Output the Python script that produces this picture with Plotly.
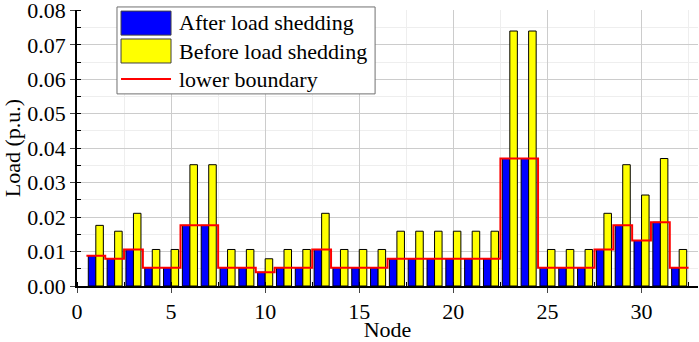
import plotly.graph_objects as go

nodes = list(range(1, 33))
before = [0.0176, 0.0159, 0.0211, 0.0106, 0.0106, 0.0352, 0.0352, 0.0106,
          0.0106, 0.0079, 0.0106, 0.0106, 0.0211, 0.0106, 0.0106, 0.0106,
          0.0159, 0.0159, 0.0159, 0.0159, 0.0159, 0.0159, 0.0740, 0.0740,
          0.0106, 0.0106, 0.0106, 0.0211, 0.0352, 0.0264, 0.0370, 0.0106]
after = [0.0088, 0.0079, 0.0106, 0.0053, 0.0053, 0.0176, 0.0176, 0.0053,
         0.0053, 0.0040, 0.0053, 0.0053, 0.0106, 0.0053, 0.0053, 0.0053,
         0.0079, 0.0079, 0.0079, 0.0079, 0.0079, 0.0079, 0.0370, 0.0370,
         0.0053, 0.0053, 0.0053, 0.0106, 0.0176, 0.0132, 0.0185, 0.0053]
lower = after[:]

x_ticks = [0, 5, 10, 15, 20, 25, 30]
y_ticks = [0.00, 0.01, 0.02, 0.03, 0.04, 0.05, 0.06, 0.07, 0.08]

FONT = "Liberation Serif, Times New Roman, serif"
FS = 22

# step line edges: node +/- 0.5
step_x = [n - 0.5 for n in nodes] + [nodes[-1] + 0.5]
step_y = lower + [lower[-1]]

fig = go.Figure()
fig.add_trace(go.Bar(x=nodes, y=after, name="After load shedding",
                     marker=dict(color="#0000FF", line=dict(color="#000000", width=1)),
                     showlegend=False))
fig.add_trace(go.Bar(x=nodes, y=before, name="Before load shedding",
                     marker=dict(color="#FFFF00", line=dict(color="#000000", width=1)),
                     showlegend=False))
fig.add_trace(go.Scatter(x=step_x, y=step_y, mode="lines", name="lower boundary",
                         line=dict(color="#FF0000", width=2, shape="hv"),
                         showlegend=False))

# custom legend
shapes = [
    dict(type="rect", xref="paper", yref="paper", x0=0.0644, x1=0.48, y0=0.696, y1=1.011,
         line=dict(color="#707070", width=1), fillcolor="white", layer="above"),
    dict(type="rect", xref="paper", yref="paper", x0=0.0709, x1=0.1514, y0=0.909, y1=0.996,
         line=dict(color="#404040", width=1), fillcolor="#0000FF", layer="above"),
    dict(type="rect", xref="paper", yref="paper", x0=0.0709, x1=0.1514, y0=0.808, y1=0.895,
         line=dict(color="#404040", width=1), fillcolor="#FFFF00", layer="above"),
    dict(type="line", xref="paper", yref="paper", x0=0.0709, x1=0.1514, y0=0.75, y1=0.75,
         line=dict(color="#FF0000", width=2), layer="above"),
]
labels = ["After load shedding", "Before load shedding", "lower boundary"]
ys = [0.953, 0.851, 0.75]
annotations = [dict(text=t, xref="paper", yref="paper", x=0.161, y=yy, xanchor="left",
                    yanchor="middle", showarrow=False,
                    font=dict(family=FONT, size=FS, color="black"))
               for t, yy in zip(labels, ys)]

fig.update_layout(
    width=699, height=342,
    margin=dict(l=77, r=1, t=10, b=56, autoexpand=False),
    plot_bgcolor="white", paper_bgcolor="white",
    barmode="group", bargap=0.2, bargroupgap=0,
    font=dict(family=FONT, size=FS, color="black"),
    shapes=shapes, annotations=annotations,
    xaxis=dict(range=[0, 33], tickvals=x_ticks, ticks="outside", ticklen=5,
               showline=True, linecolor="black", linewidth=1.5,
               showgrid=True, gridcolor="#cccccc", gridwidth=1, zeroline=False,
               minor=dict(dtick=2.5, tick0=0, ticks="inside", ticklen=4, tickcolor="black",
                          showgrid=True, gridcolor="#eeeeee", gridwidth=1),
               title=dict(text="Node", font=dict(family=FONT, size=FS), standoff=0),
               tickfont=dict(family=FONT, size=FS), automargin=False,
               ticklabeloverflow="allow"),
    yaxis=dict(range=[0, 0.0801], tickvals=y_ticks, tickformat=".2f", ticks="outside", ticklen=5,
               showline=True, linecolor="black", linewidth=1.5,
               showgrid=True, gridcolor="#cccccc", gridwidth=1, zeroline=False,
               minor=dict(dtick=0.005, tick0=0, ticks="inside", ticklen=4, tickcolor="black",
                          showgrid=True, gridcolor="#eeeeee", gridwidth=1),
               title=dict(text="Load (p.u.)", font=dict(family=FONT, size=FS), standoff=2),
               tickfont=dict(family=FONT, size=FS), automargin=False,
               ticklabeloverflow="allow"),
)

fig.write_html("out.html", config={"displayModeBar": False},
               post_script="document.body.style.margin='0';document.body.style.overflow='hidden';")
